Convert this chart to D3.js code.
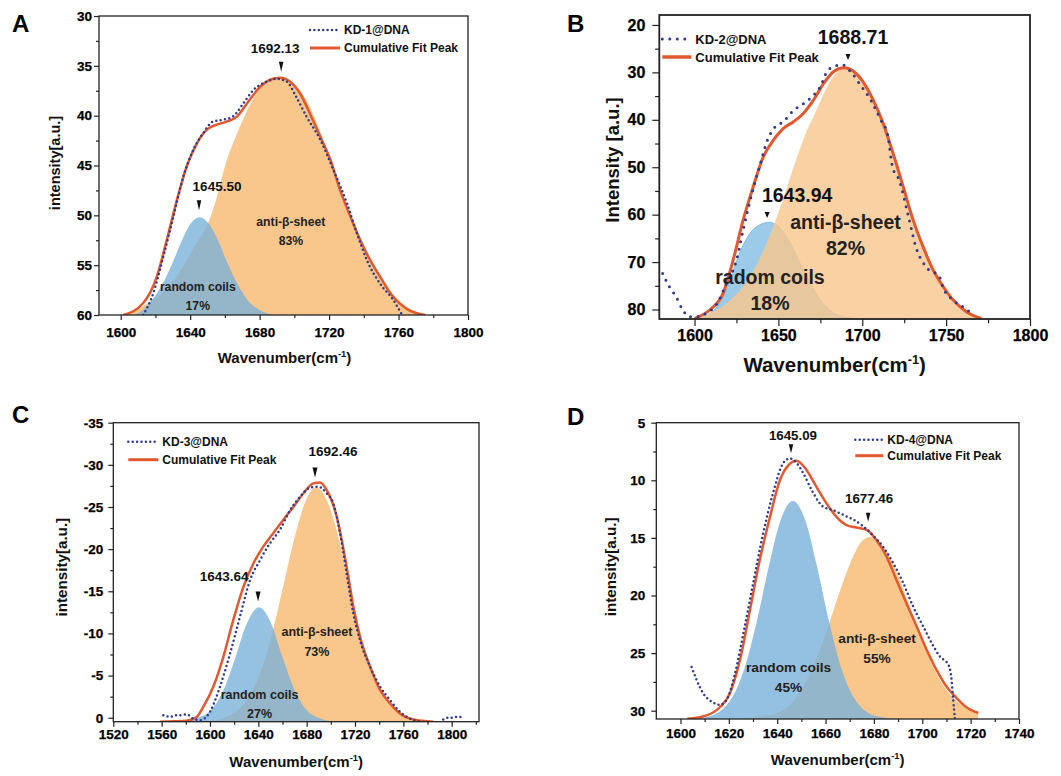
<!DOCTYPE html>
<html>
<head>
<script src="https://cdn.jsdelivr.net/npm/d3@7"></script>
<style>
  body { margin: 0; background: #fff; }
  svg { display: block; font-family: "Liberation Sans", Arial, sans-serif; font-weight: bold; }
  svg text { font-weight: bold; }
</style>
</head>
<body>
<svg id="fig" width="1061" height="776"></svg>
<script>
// ---------- values: [wavenumber, intensity] ----------

// A  KD-1@DNA
const aData = [[1613,60],[1618.8,57.8],[1624.6,54.1],[1630.4,50.1],[1636.1,46.1],[1641.9,43.4],[1647.7,41.7],[1653,40.6],[1659.2,40.4],[1664.5,40.1],[1670.5,38.8],[1676.5,37.4],[1684,36.6],[1690,36.3],[1695.7,36.6],[1701,38.1],[1707,40.1],[1714.9,42.4],[1722.6,45.5],[1730.3,48.8],[1736,51.8],[1741.8,54.5],[1749.5,56.9],[1757,58.5],[1762,60]];
const aFit = [[1601.5,60],[1613,58.8],[1620.7,56.2],[1626.5,52.5],[1632.3,48.5],[1638,45.1],[1643.8,42.8],[1649.6,41.4],[1655.3,40.9],[1661,40.6],[1666.9,40.1],[1672.6,38.8],[1680.3,37.1],[1686,36.4],[1691.8,36.2],[1697.6,36.6],[1703.4,37.8],[1709,39.8],[1714.9,42.1],[1720.7,44.4],[1726.4,47.5],[1732.2,50.1],[1738,52.5],[1743.7,54.5],[1749.5,56.2],[1757,58.2],[1764.8,59.4],[1775.4,60]];
const aCoil = [[1608,60],[1612,59.6],[1618,58.5],[1624,56.9],[1630,54.7],[1635,52.6],[1640,50.9],[1645.5,50.2],[1651,50.9],[1656,52.5],[1661,54.6],[1667,56.8],[1673,58.5],[1680,59.5],[1688,60]];
const aSheet = [[1603,60],[1615,58.9],[1625,57.6],[1635,55.4],[1643,53],[1651,50.5],[1655,48.4],[1660,45.1],[1667,41.8],[1676,38.4],[1682,36.9],[1692,36.3],[1700,36.9],[1708,38.8],[1714,41.2],[1720,44.1],[1727,47.6],[1734,50.9],[1740,53.3],[1748,55.8],[1756,57.8],[1764,59.1],[1776,60]];
const aPeakText = ["1645.50", "1692.13"];
const aPeakX = [1645.1, 1692.4];
const aPeakY = [49.5, 35.6];
const aXTicks = [1600, 1640, 1680, 1720, 1760, 1800];
const aXMinor = [1620, 1660, 1700, 1740, 1780];
const aYTicks = [30, 35, 40, 45, 50, 55, 60];
const aYMinor = [32.5, 37.5, 42.5, 47.5, 52.5, 57.5];

// B  KD-2@DNA
const bData = [[1581,72.4],[1585,75.2],[1589,77.3],[1593,80.1],[1597,81.5],[1601,81.5],[1607,80.8],[1613,79],[1619,74.5],[1625,69.6],[1629,63.2],[1635,54.5],[1639,49.6],[1643,44.7],[1648,41.5],[1653,40.4],[1659,38],[1665,36.6],[1671,34.8],[1675,33],[1679,29.8],[1683,28.8],[1688,28.4],[1693,29.8],[1699,32.7],[1705,35.8],[1711,40],[1715,42.9],[1718,49.9],[1722,52.7],[1728,61.1],[1732,66.8],[1738,71],[1746,73.1],[1748,75.2],[1754,78],[1760,79.4],[1764,80.5]];
const bFit = [[1600,81.9],[1609,80.1],[1617,76.6],[1623,69.6],[1629,61.1],[1635,54.1],[1641,47.8],[1647,44.3],[1653,41.8],[1659,40.4],[1665,38.6],[1671,35.8],[1677,32.3],[1683,29.8],[1689,29],[1695,29.8],[1700.5,32],[1706.5,35.8],[1712.4,40.7],[1718.4,47.1],[1724.4,54.1],[1730.3,61.1],[1736.3,66.8],[1742.3,71.7],[1748.3,75.2],[1754.2,78],[1762.2,80.5],[1771,81.9]];
const bCoil = [[1600,82],[1608,81.2],[1615,78.6],[1620,75],[1625,69.8],[1630,65.7],[1636,62.8],[1644.5,61.6],[1651,62.8],[1657,66],[1663,70.3],[1669,74.5],[1675,78],[1682,80.5],[1690,81.6],[1698,82]];
const bSheet = [[1600,82],[1610,80.6],[1620,78.4],[1630,74.6],[1640,68.4],[1648,61.5],[1654,55.5],[1660,49],[1666.7,42.5],[1672,38.5],[1677,34.5],[1681,31.8],[1685,29.9],[1689,29.1],[1695,29.8],[1700.5,32],[1706.5,35.8],[1712.4,40.7],[1718.4,47.1],[1724.4,54.1],[1730.3,61.1],[1736.3,66.8],[1742.3,71.7],[1748.3,75.2],[1754.2,78],[1762.2,80.5],[1771,82]];
const bPeakText = ["1643.94", "1688.71"];
const bPeakX = [1643.3, 1691.5];
const bPeakY = [60.7, 27.4];
const bXTicks = [1600, 1650, 1700, 1750, 1800];
const bXMinor = [1625, 1675, 1725, 1775];
const bYTicks = [20, 30, 40, 50, 60, 70, 80];
const bYMinor = [25, 35, 45, 55, 65, 75];

// C  KD-3@DNA
const cData = [[1561.4,-0.3],[1566.9,-0.1],[1571,-0.3],[1575.2,-0.3],[1580.7,-0.4],[1586,0.1],[1591.7,0.3],[1600,-0.7],[1608.3,-3.7],[1616.6,-7.6],[1624.8,-12],[1633.1,-16.3],[1641.4,-18.7],[1649.7,-20.7],[1657.9,-22.3],[1666.2,-24.6],[1674.5,-26.2],[1682.8,-27.3],[1689.7,-27.4],[1696.6,-26.6],[1702.1,-25.4],[1707.6,-21.9],[1713.1,-17.1],[1718.6,-12.4],[1724.1,-9.2],[1732.4,-6.1],[1740.7,-3.7],[1749,-2.1],[1757.2,-0.7],[1765.5,0.1],[1776.5,0.5]];
const cDataTail = [[1793,0.2],[1797,0],[1801,0],[1804,-0.1],[1809,-0.1]];
const cFit = [[1558.6,0.47],[1580.7,0.35],[1589,-0.1],[1594.5,-1.3],[1602.8,-3.7],[1611,-7.2],[1619.3,-11.6],[1627.6,-15.5],[1635.9,-18.3],[1644.1,-20.3],[1652.4,-21.9],[1660.7,-23.5],[1669,-25],[1677.2,-26.6],[1685.5,-27.8],[1691,-27.9],[1696.6,-27],[1704.8,-23.9],[1713.1,-17.9],[1718.6,-13.2],[1724.1,-9.6],[1732.4,-6.1],[1740.7,-3.3],[1749,-1.7],[1757.2,-0.5],[1768.3,0.2],[1784.8,0.47]];
const cCoil = [[1578,0.47],[1590,0],[1600,-0.8],[1610,-2.9],[1620,-6.7],[1630,-11],[1640.5,-13.1],[1650,-11.4],[1660,-7.2],[1670,-3.3],[1680,-0.9],[1690,0],[1702,0.47]];
const cSheet = [[1595,0.47],[1610,0.1],[1620,-0.6],[1630,-2],[1640,-4.7],[1650,-9.2],[1660,-15.2],[1670,-21.4],[1680,-26],[1688,-27.3],[1696,-26],[1706,-21.6],[1713,-17.1],[1718.6,-13.5],[1724,-10.3],[1732,-6.3],[1740,-3.4],[1750,-1.4],[1760,-0.3],[1772,0.3],[1785,0.47]];
const cPeakText = ["1643.64", "1692.46"];
const cPeakX = [1639.8, 1686.9];
const cPeakY = [-13.8, -28.5];
const cXTicks = [1520, 1560, 1600, 1640, 1680, 1720, 1760, 1800];
const cXMinor = [1540, 1580, 1620, 1660, 1700, 1740, 1780, 1820];
const cYTicks = [-35, -30, -25, -20, -15, -10, -5, 0];
const cYMinor = [-32.5, -27.5, -22.5, -17.5, -12.5, -7.5, -2.5];

// D  KD-4@DNA
const dData = [[1604.6,26.2],[1606.6,27.3],[1609.4,28.5],[1612.8,29.2],[1616.3,29.5],[1619,29.1],[1622.5,26.8],[1626,23.3],[1630,19],[1634.2,14.6],[1638.3,11.1],[1642.5,8.5],[1645.2,8.1],[1648,8.5],[1650.8,9.4],[1654.9,11.1],[1659,12.3],[1663.2,12.6],[1667.3,13],[1671.4,13.4],[1675.6,14],[1679.7,14.8],[1683.9,15.8],[1688,17.2],[1692.1,18.9],[1696.3,21],[1700.4,22.7],[1704.6,24.4],[1707.3,25.3],[1710.8,26],[1712.1,27.3],[1712.8,29.1],[1713.5,30.7]];
const dFit = [[1602.8,30.7],[1610.8,30.4],[1616.3,29.7],[1620.4,28.5],[1624.6,25.6],[1628.7,21.3],[1632.8,16.9],[1637,13.2],[1641.1,10],[1644.6,8.7],[1648,8.3],[1652.1,9.1],[1656.3,10.6],[1660.4,12],[1664.6,13.2],[1668.7,13.9],[1672.8,14.1],[1677,14.3],[1681.1,15.2],[1685.2,16.6],[1689.4,18.7],[1693.5,20.7],[1697.7,22.7],[1701.8,24.7],[1706,26.5],[1710,27.9],[1714.2,28.9],[1718.3,29.7],[1723.2,30.2]];
const dCoil = [[1603,30.72],[1611.5,30.5],[1621.5,28.8],[1626.5,26.3],[1631.5,22.3],[1636.5,17.5],[1641.5,13.4],[1646.5,11.8],[1651.5,13.4],[1656.5,17.5],[1661.5,22.3],[1666.5,26.3],[1671.5,28.8],[1681.5,30.5],[1691.5,30.72]];
const dSheet = [[1625,30.72],[1630,30.6],[1640,30.2],[1645,29.5],[1650,28.2],[1655,26.1],[1660,23.4],[1665,20.2],[1670,17.3],[1675,15.3],[1678.5,14.9],[1685,16.1],[1690,18.3],[1695,21.1],[1700,23.9],[1705,26.4],[1710,28.2],[1715,29.3],[1723,30.3]];
const dPeakText = ["1645.09", "1677.46"];
const dPeakX = [1645.7, 1677.6];
const dPeakY = [7.66, 13.6];
const dXTicks = [1600, 1620, 1640, 1660, 1680, 1700, 1720, 1740];
const dXMinor = [1610, 1630, 1650, 1670, 1690, 1710, 1730];
const dYTicks = [5, 10, 15, 20, 25, 30];
const dYMinor = [7.5, 12.5, 17.5, 22.5, 27.5];

// ---------- layout / styling per panel ----------
const BLUE = "#79b1da", ORANGE = "#f9c68b", FIT = "#e2582f", DOT = "#2f3a8f";

const panels = [
  { id: "A", letter: [12, 32], box: [99, 16, 468, 315], xDom: [1587.5, 1800], yDom: [30, 60],
    data: [aData], fit: aFit, coil: aCoil, sheet: aSheet, coilOnTop: true, blue: BLUE, coilOpacity: 0.78, sheetOpacity: 1,
    xT: aXTicks, xM: aXMinor, yT: aYTicks, yM: aYMinor,
    tick: 13.5, tickLen: 5, xOff: 12, yOff: 7, title: 15, titleDx: 1, titleDy: 43, yTitle: "intensity[a.u.]", ylab: 14.5, ylabDx: -44, ylabDy: -2.5,
    legend: "KD-1@DNA", legX: 211, legY: 14, legStep: 18, legFont: 12, legLen: 30, dotW: 2.5, dotGap: 4.4, fitW: 2.5,
    peaks: [aPeakText, aPeakX, aPeakY], peakFont: 13.5, peakOff: [[18, -24], [-6, -24]], arrowH: 10, arrowW: 4.5,
    regionFont: 12.2, sheetLab: [1698, 50.6, "83%"], coilLab: [1644.4, 57.2, "random coils", "17%"], labGap: 19 },
  { id: "B", letter: [567, 32], box: [659.3, 15, 1030, 319], xDom: [1579, 1800], yDom: [17.9, 82],
    data: [bData], fit: bFit, coil: bCoil, sheet: bSheet, coilOnTop: false, blue: "#9ccbea", coilOpacity: 1, sheetOpacity: 0.8,
    xT: bXTicks, xM: bXMinor, yT: bYTicks, yM: bYMinor,
    tick: 16, tickLen: 7, xOff: 11, yOff: 14, title: 20.5, titleDx: -10, titleDy: 46, yTitle: "Intensity [a.u.]", ylab: 18.5, ylabDx: -47, ylabDy: -7,
    legend: "KD-2@DNA", legX: 3, legY: 24, legStep: 18, legFont: 13, legLen: 29, dotW: 3, dotGap: 7.5, fitW: 3,
    peaks: [bPeakText, bPeakX, bPeakY], peakFont: 19.5, peakOff: [[30, -23], [5, -23]], arrowH: 6, arrowW: 5,
    regionFont: 19.5, sheetLab: [1690, 61.6, "82%"], coilLab: [1645, 73.2, "radom coils", "18%"], labGap: 26 },
  { id: "C", letter: [12, 423], box: [113.3, 422.7, 479, 721.7], xDom: [1520, 1822.6], yDom: [-35, 0.47],
    data: [cData, cDataTail], fit: cFit, coil: cCoil, sheet: cSheet, coilOnTop: true, blue: BLUE, coilOpacity: 0.78, sheetOpacity: 1,
    xT: cXTicks, xM: cXMinor, yT: cYTicks, yM: cYMinor,
    tick: 13.5, tickLen: 5, xOff: 8, yOff: 10, title: 15, titleDx: 0, titleDy: 40, yTitle: "intensity[a.u.]", ylab: 15.2, ylabDx: -51.6, ylabDy: -5,
    legend: "KD-3@DNA", legX: 15, legY: 19, legStep: 18, legFont: 12, legLen: 30, dotW: 2.5, dotGap: 4.4, fitW: 2.5,
    peaks: [cPeakText, cPeakX, cPeakY], peakFont: 13.5, peakOff: [[-34, -25], [18, -26]], arrowH: 10, arrowW: 5,
    regionFont: 12.5, sheetLab: [1688.5, -10.2, "73%"], coilLab: [1641, -2.8, "random coils", "27%"], labGap: 19.5 },
  { id: "D", letter: [567, 425], box: [656.3, 422.7, 1019, 719], xDom: [1590, 1740], yDom: [5, 30.72],
    data: [dData], fit: dFit, coil: dCoil, sheet: dSheet, coilOnTop: true, blue: BLUE, coilOpacity: 0.8, sheetOpacity: 1,
    xT: dXTicks, xM: dXMinor, yT: dYTicks, yM: dYMinor,
    tick: 13.5, tickLen: 5, xOff: 9, yOff: 11, title: 15, titleDx: 0, titleDy: 41, yTitle: "intensity[a.u.]", ylab: 15.2, ylabDx: -46, ylabDy: -4,
    legend: "KD-4@DNA", legX: 199, legY: 17, legStep: 16, legFont: 12, legLen: 28, dotW: 2.5, dotGap: 4.4, fitW: 2.5,
    peaks: [dPeakText, dPeakX, dPeakY], peakFont: 13.3, peakOff: [[2, -18], [1, -23]], arrowH: 9, arrowW: 4.5,
    regionFont: 13.7, sheetLab: [1681.3, 23.7, "55%"], coilLab: [1644.7, 26.2, "random coils", "45%"], labGap: 20 }
];

const svg = d3.select("#fig");
svg.append("rect").attr("width", 1061).attr("height", 776).attr("fill", "#fff");

panels.forEach(function(p) {
  const [l, t, r, b] = p.box;
  const x = d3.scaleLinear().domain(p.xDom).range([l, r]);
  const y = d3.scaleLinear().domain(p.yDom).range([t, b]);
  const g = svg.append("g");

  g.append("clipPath").attr("id", "clip" + p.id)
    .append("rect").attr("x", l).attr("y", t).attr("width", r - l).attr("height", b - t);
  const plot = g.append("g").attr("clip-path", "url(#clip" + p.id + ")");

  const area = d3.area().curve(d3.curveMonotoneX)
    .x(d => x(d[0])).y0(b).y1(d => y(d[1]));
  const line = d3.line().curve(d3.curveMonotoneX)
    .x(d => x(d[0])).y(d => y(d[1]));

  function drawCoil() {
    plot.append("path").datum(p.coil).attr("d", area)
      .attr("fill", p.blue).attr("fill-opacity", p.coilOpacity)
      .attr("stroke", p.id == "B" ? "#86bde2" : "none").attr("stroke-width", 1);
  }
  function drawSheet() {
    plot.append("path").datum(p.sheet).attr("d", area)
      .attr("fill", ORANGE).attr("fill-opacity", p.sheetOpacity);
  }
  if (p.coilOnTop) { drawSheet(); drawCoil(); } else { drawCoil(); drawSheet(); }

  plot.append("path").datum(p.fit).attr("d", line)
    .attr("fill", "none").attr("stroke", FIT).attr("stroke-width", p.fitW);
  p.data.forEach(function(seg) {
    plot.append("path").datum(seg).attr("d", line)
      .attr("fill", "none").attr("stroke", DOT).attr("stroke-width", p.dotW)
      .attr("stroke-linecap", "round").attr("stroke-dasharray", "0," + p.dotGap);
  });

  // axes
  const axes = g.append("g").attr("class", "axes");
  [[d3.axisBottom(x).tickValues(p.xT).tickSize(p.tickLen).tickPadding(p.xOff - p.tickLen).tickFormat(d => String(d)), "translate(0," + b + ")"],
   [d3.axisBottom(x).tickValues(p.xM).tickSize(p.tickLen * 0.6).tickFormat(""), "translate(0," + b + ")"],
   [d3.axisLeft(y).tickValues(p.yT).tickSize(p.tickLen).tickPadding(p.yOff - p.tickLen).tickFormat(d => String(d)), "translate(" + l + ",0)"],
   [d3.axisLeft(y).tickValues(p.yM).tickSize(p.tickLen * 0.6).tickFormat(""), "translate(" + l + ",0)"]
  ].forEach(function(a) {
    axes.append("g").attr("transform", a[1]).call(a[0])
      .attr("font-family", "'Liberation Sans', Arial, sans-serif")
      .attr("font-weight", "bold").attr("font-size", p.tick);
  });
  axes.selectAll(".domain").remove();
  axes.selectAll(".tick line").attr("stroke", "#222").attr("stroke-width", 1.2);
  axes.selectAll(".tick text").attr("fill", "#000").attr("stroke", "#000").attr("stroke-width", 0.25);

  g.append("rect").attr("x", l).attr("y", t).attr("width", r - l).attr("height", b - t)
    .attr("fill", "none").attr("stroke", "#222").attr("stroke-width", p.id == "B" ? 1.8 : 1.3);

  // axis titles
  const tt = g.append("text").attr("x", (l + r) / 2 + p.titleDx).attr("y", b + p.titleDy)
    .attr("dy", "0.35em").attr("text-anchor", "middle").attr("font-size", p.title).attr("fill", "#111");
  tt.append("tspan").text("Wavenumber(cm");
  tt.append("tspan").attr("font-size", p.title * 0.62).attr("dy", -p.title * 0.4).text("-1");
  tt.append("tspan").attr("dy", p.title * 0.4).text(")");

  g.append("text").attr("transform", "translate(" + (l + p.ylabDx) + "," + ((t + b) / 2 + p.ylabDy) + ") rotate(-90)")
    .attr("dy", "0.35em").attr("text-anchor", "middle").attr("font-size", p.ylab).attr("fill", "#111").text(p.yTitle);

  g.append("text").attr("x", p.letter[0]).attr("y", p.letter[1]).attr("font-size", 24).attr("fill", "#000").text(p.id);

  // legend
  const lx = l + p.legX, ly = t + p.legY;
  g.append("line").attr("x1", lx).attr("x2", lx + p.legLen).attr("y1", ly).attr("y2", ly)
    .attr("stroke", DOT).attr("stroke-width", p.dotW).attr("stroke-linecap", "round").attr("stroke-dasharray", "0," + p.dotGap);
  g.append("line").attr("x1", lx).attr("x2", lx + p.legLen).attr("y1", ly + p.legStep).attr("y2", ly + p.legStep)
    .attr("stroke", FIT).attr("stroke-width", p.fitW + 0.5);
  g.append("text").attr("x", lx + p.legLen + 4).attr("y", ly).attr("dy", "0.35em")
    .attr("font-size", p.legFont).attr("fill", "#111").text(p.legend);
  g.append("text").attr("x", lx + p.legLen + 4).attr("y", ly + p.legStep).attr("dy", "0.35em")
    .attr("font-size", p.legFont).attr("fill", "#111").text("Cumulative Fit Peak");

  // peak markers
  const [pText, pX, pY] = p.peaks;
  pText.forEach(function(s, i) {
    const ax = x(pX[i]), ay = y(pY[i]);
    g.append("path")
      .attr("d", "M" + (ax - p.arrowW / 2) + "," + (ay - p.arrowH) + "L" + (ax + p.arrowW / 2) + "," + (ay - p.arrowH) + "L" + ax + "," + ay + "Z")
      .attr("fill", "#111");
    g.append("text").attr("x", ax + p.peakOff[i][0]).attr("y", ay + p.peakOff[i][1]).attr("dy", "0.35em")
      .attr("text-anchor", "middle").attr("font-size", p.peakFont).attr("fill", "#111").text(s);
  });

  // component labels
  [[p.sheetLab[0], p.sheetLab[1], "anti-β-sheet", p.sheetLab[2]],
   [p.coilLab[0], p.coilLab[1], p.coilLab[2], p.coilLab[3]]].forEach(function(c) {
    g.append("text").attr("x", x(c[0])).attr("y", y(c[1])).attr("dy", "0.35em")
      .attr("text-anchor", "middle").attr("font-size", p.regionFont).attr("fill", "#222").text(c[2]);
    g.append("text").attr("x", x(c[0])).attr("y", y(c[1]) + p.labGap).attr("dy", "0.35em")
      .attr("text-anchor", "middle").attr("font-size", p.regionFont).attr("fill", "#222").text(c[3]);
  });
});
</script>
</body>
</html>
